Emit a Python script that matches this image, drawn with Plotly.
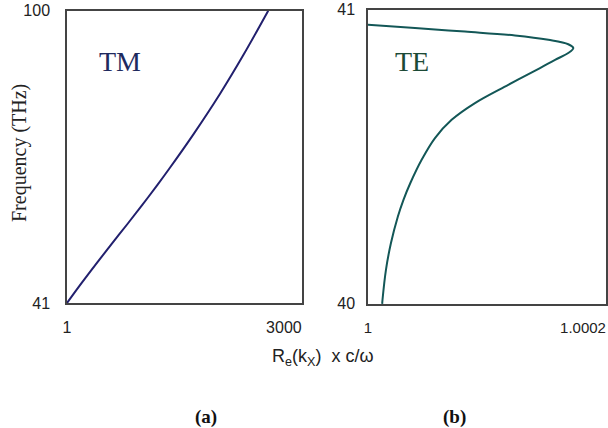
import plotly.graph_objects as go

# TM branch: Re(kx)*c/omega vs frequency (THz)
tm_x = [1, 212, 420, 627, 834, 1042, 1249, 1424, 1746, 2115, 2437, 2783]
tm_y = [41, 45.2, 49.2, 53.1, 56.9, 60.8, 64.8, 68.3, 75.0, 83.2, 91.0, 100]

# TE branch: Re(kx)*c/omega vs frequency (THz)
te_x = [1.0, 1.0000437, 1.0000902, 1.0001367, 1.0001678, 1.0001863, 1.0001910,
        1.0001863, 1.0001740, 1.0001600, 1.0001305, 1.0000995, 1.0000778,
        1.0000623, 1.0000499, 1.0000394, 1.0000330, 1.0000278, 1.0000213,
        1.0000167, 1.0000135, 1.0000132]
te_y = [40.949, 40.938, 40.926, 40.913, 40.898, 40.883, 40.870, 40.853, 40.830,
        40.802, 40.745, 40.683, 40.626, 40.564, 40.490, 40.411, 40.354, 40.297,
        40.206, 40.116, 40.014, 40.000]

tm_xticks = [1, 3000]
tm_yticks = [41, 100]
te_xticks = [1, 1.0002]
te_yticks = [40, 41]

fig = go.Figure()
fig.add_trace(go.Scatter(x=tm_x, y=tm_y, mode="lines", line=dict(color="#22206e", width=2, shape="spline"),
                         xaxis="x", yaxis="y", showlegend=False))
fig.add_trace(go.Scatter(x=te_x, y=te_y, mode="lines", line=dict(color="#135757", width=2, shape="spline"),
                         xaxis="x2", yaxis="y2", showlegend=False))

def frame(size):
    return dict(showline=True, linecolor="#444444", linewidth=1.5, mirror=True, showgrid=False,
                zeroline=False, ticks="", automargin=False, ticklabeloverflow="allow",
                tickfont=dict(family="Liberation Sans, Arial", size=size, color="#222222"))

fig.update_layout(
    width=608, height=428, margin=dict(l=0, r=0, t=0, b=0, autoexpand=False),
    paper_bgcolor="white", plot_bgcolor="white",
    xaxis=dict(domain=[67/608, 302/608], range=[1, 3250], tickvals=tm_xticks,
               ticktext=["1", "3000"], anchor="y", ticklabelstandoff=9, **frame(16)),
    yaxis=dict(domain=[0.292, 0.975], range=[41, 100], tickvals=tm_yticks,
               ticktext=["41", "100"], anchor="x", ticklabelstandoff=12, **frame(16)),
    xaxis2=dict(domain=[368/608, 606/608], range=[1, 1.0002214], tickvals=te_xticks,
                ticktext=["1", "1.0002"], anchor="y2", ticklabelstandoff=9, **frame(15)),
    yaxis2=dict(domain=[0.290, 0.977], range=[40, 41], tickvals=te_yticks,
                ticktext=["40", "41"], anchor="x2", ticklabelstandoff=8, **frame(16)),
)

serif = "Liberation Serif, Times New Roman"
anns = [
    dict(text="TM", x=120/608, y=1-62/428, font=dict(family=serif, size=28, color="#1f2a5e")),
    dict(text="TE", x=412/608, y=1-62/428, font=dict(family=serif, size=28, color="#1c4a36")),
    dict(text="Frequency (THz)", x=20/608, y=1-153/428, textangle=-90,
         font=dict(family=serif, size=20, color="#222222")),
    dict(text="R<sub>e</sub>(k<sub>X</sub>)  x c/ω", x=322/608, y=1-357/428,
         font=dict(family="Liberation Sans, Arial", size=18, color="#222222")),
    dict(text="<b>(a)</b>", x=206/608, y=1-417/428, font=dict(family=serif, size=19, color="#111111")),
    dict(text="<b>(b)</b>", x=454/608, y=1-417/428, font=dict(family=serif, size=19, color="#111111")),
]
for a in anns:
    fig.add_annotation(xref="paper", yref="paper", showarrow=False, xanchor="center", yanchor="middle", **a)

fig.write_html("out.html", config={"displayModeBar": False},
               post_script="document.body.style.margin='0';document.body.style.overflow='hidden';")
